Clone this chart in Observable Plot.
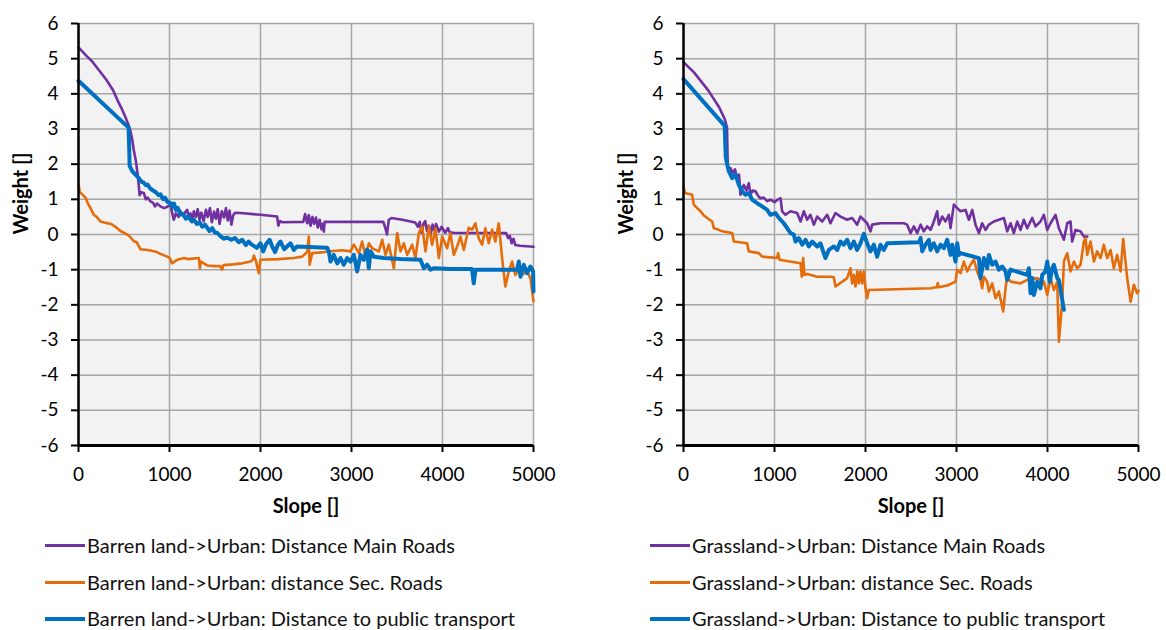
<!DOCTYPE html>
<html><head><meta charset="utf-8">
<script src="https://cdn.jsdelivr.net/npm/d3@7"></script>
<script src="https://cdn.jsdelivr.net/npm/@observablehq/plot@0.6"></script>
<style>
body{margin:0;background:#fff;}
#wrap{position:relative;width:1166px;height:630px;overflow:hidden;font-family:Lato,"Open Sans",sans-serif;}
.panel{position:absolute;top:0;width:583px;height:630px;}
.panel svg{position:absolute;left:0;top:0;}
.item{position:absolute;white-space:nowrap;font-size:20px;color:#111;line-height:20px;}
.sw{position:absolute;top:9px;height:3px;}
</style></head><body><div id="wrap"></div>
<script>
// ---------- data ----------
const xTicks = [0, 1000, 2000, 3000, 4000, 5000];
const yTicks = [-6, -5, -4, -3, -2, -1, 0, 1, 2, 3, 4, 5, 6];
const xLabel = "Slope []";
const yLabel = "Weight []";
const seriesColors = ["#7030a0", "#e46c0a", "#0070c0"];
const leftNames = ["Barren land->Urban: Distance Main Roads", "Barren land->Urban: distance Sec. Roads", "Barren land->Urban: Distance to public transport"];
const rightNames = ["Grassland->Urban: Distance Main Roads", "Grassland->Urban: distance Sec. Roads", "Grassland->Urban: Distance to public transport"];

const barrenMain = [[0,5.32],[80,5.1],[157,4.9],[240,4.62],[314,4.37],[380,4.1],[432,3.8],[480,3.55],[510,3.37],[545,3.15],[570,2.95],[590,2.7],[609,2.38],[630,2.1],[648,1.75],[662,1.4],[672,1.12],[690,1.2],[718,1.18],[740,1.0],[760,1.05],[791,0.94],[820,0.9],[840,0.8],[864,0.88],[900,0.8],[938,0.75],[970,0.78],[1011,0.85],[1030,0.6],[1047,0.42],[1070,0.6],[1100,0.5],[1121,0.66],[1150,0.55],[1194,0.7],[1215,0.45],[1231,0.6],[1250,0.35],[1267,0.66],[1290,0.5],[1310,0.72],[1330,0.42],[1350,0.62],[1375,0.38],[1400,0.7],[1420,0.5],[1445,0.75],[1465,0.35],[1490,0.65],[1510,0.45],[1530,0.72],[1550,0.3],[1575,0.66],[1600,0.48],[1620,0.75],[1640,0.4],[1660,0.68],[1680,0.28],[1700,0.55],[1720,0.62],[1780,0.61],[2000,0.56],[2183,0.51],[2195,0.25],[2201,0.28],[2215,0.38],[2238,0.35],[2470,0.36],[2490,0.58],[2513,0.32],[2530,0.55],[2550,0.25],[2570,0.5],[2590,0.3],[2610,0.48],[2630,0.2],[2650,0.42],[2670,0.15],[2685,0.3],[2696,0.08],[2705,0.36],[3350,0.36],[3370,0.2],[3390,0.0],[3410,0.42],[3440,0.47],[3560,0.42],[3700,0.34],[3730,0.22],[3750,0.36],[3770,0.05],[3790,0.3],[3810,0.38],[3830,0.1],[3850,0.25],[3870,0.0],[3890,0.28],[3910,0.12],[3930,0.3],[3960,0.08],[3990,0.22],[4030,0.05],[4060,0.18],[4080,0.06],[4120,0.05],[4700,0.04],[4720,-0.1],[4740,-0.04],[4760,-0.25],[4780,-0.12],[4800,-0.3],[4850,-0.32],[5000,-0.35]];

const barrenSec = [[0,1.43],[15,1.2],[50,1.12],[80,1.04],[100,0.9],[132,0.75],[168,0.56],[200,0.5],[242,0.37],[300,0.33],[360,0.3],[425,0.18],[460,0.1],[535,0.0],[560,-0.05],[608,-0.19],[640,-0.22],[681,-0.42],[780,-0.45],[860,-0.5],[900,-0.55],[975,-0.63],[1000,-0.66],[1029,-0.82],[1050,-0.78],[1084,-0.72],[1158,-0.67],[1200,-0.7],[1323,-0.67],[1334,-0.96],[1345,-0.77],[1414,-0.88],[1500,-0.9],[1560,-0.9],[1578,-1.0],[1595,-0.87],[1700,-0.85],[1800,-0.82],[1890,-0.77],[1915,-0.72],[1927,-0.6],[1950,-0.75],[1981,-1.1],[1999,-0.72],[2200,-0.7],[2366,-0.67],[2458,-0.63],[2513,-0.5],[2531,-0.06],[2540,-0.86],[2568,-0.53],[2700,-0.5],[2800,-0.47],[2900,-0.45],[2989,-0.48],[3026,-0.29],[3081,-0.53],[3117,-0.2],[3154,-0.63],[3191,-0.25],[3227,-0.39],[3300,-0.48],[3337,-0.15],[3374,-0.58],[3410,-0.29],[3465,-0.96],[3502,0.04],[3538,-0.48],[3575,-0.25],[3612,-0.58],[3667,-0.29],[3703,-0.67],[3740,0.04],[3777,0.23],[3813,-0.48],[3850,0.23],[3886,-0.29],[3923,0.18],[3960,-0.67],[3996,-0.06],[4051,-0.39],[4087,0.04],[4124,-0.58],[4161,-0.34],[4197,-0.06],[4234,-0.44],[4288,0.19],[4325,0.14],[4361,0.32],[4398,-0.11],[4435,-0.29],[4471,0.18],[4508,-0.25],[4545,0.14],[4581,-0.2],[4618,0.32],[4655,-0.67],[4691,-1.48],[4728,-1.05],[4765,-0.77],[4801,-1.15],[4838,-1.0],[4875,-1.15],[4930,-1.05],[4966,-1.24],[5000,-1.9]];

const barrenTransport = [[0,4.37],[550,3.04],[558,2.4],[562,1.95],[590,1.8],[620,1.72],[645,1.65],[670,1.58],[690,1.5],[715,1.48],[740,1.4],[760,1.42],[790,1.3],[820,1.25],[850,1.2],[880,1.12],[901,1.14],[930,1.0],[950,1.05],[980,0.92],[1011,0.9],[1030,0.78],[1050,0.88],[1070,0.7],[1090,0.76],[1121,0.57],[1150,0.58],[1180,0.45],[1210,0.52],[1240,0.38],[1268,0.42],[1300,0.3],[1330,0.35],[1360,0.22],[1390,0.28],[1414,0.19],[1440,0.1],[1470,0.18],[1500,0.05],[1524,0.05],[1560,-0.05],[1600,-0.12],[1634,-0.09],[1680,-0.15],[1720,-0.1],[1760,-0.22],[1800,-0.15],[1840,-0.3],[1870,-0.2],[1900,-0.28],[1930,-0.33],[1960,-0.38],[2000,-0.25],[2030,-0.48],[2060,-0.28],[2100,-0.15],[2130,-0.35],[2160,-0.5],[2190,-0.3],[2220,-0.2],[2260,-0.42],[2300,-0.32],[2330,-0.25],[2366,-0.44],[2400,-0.34],[2733,-0.38],[2751,-0.48],[2769,-0.77],[2806,-0.58],[2843,-0.82],[2879,-0.67],[2916,-0.86],[2952,-0.67],[2989,-0.77],[3026,-0.58],[3062,-1.05],[3099,-0.58],[3135,-0.72],[3172,-0.43],[3190,-0.96],[3209,-0.48],[3245,-0.63],[3355,-0.67],[3538,-0.7],[3758,-0.72],[3795,-0.96],[3831,-0.86],[3868,-1.0],[3904,-0.96],[4087,-0.98],[4325,-0.98],[4343,-1.39],[4362,-1.0],[4637,-1.0],[4820,-1.0],[4838,-0.77],[4857,-1.2],[4893,-0.86],[4930,-1.1],[4966,-0.91],[4996,-1.05],[5000,-1.62]];

const grassMain = [[0,4.9],[115,4.61],[274,4.09],[393,3.61],[453,3.28],[478,3.05],[482,2.5],[486,1.98],[498,1.8],[516,1.89],[540,1.75],[565,1.85],[590,1.6],[610,1.7],[626,1.13],[645,1.3],[663,1.41],[690,1.25],[718,1.46],[736,1.13],[760,1.25],[791,1.23],[820,1.1],[846,1.03],[880,1.05],[920,0.95],[956,0.99],[1000,0.92],[1040,1.0],[1066,1.03],[1084,0.66],[1121,0.56],[1176,0.66],[1249,0.61],[1286,0.37],[1322,0.66],[1359,0.42],[1395,0.56],[1432,0.28],[1469,0.51],[1524,0.37],[1579,0.56],[1615,0.32],[1670,0.61],[1725,0.51],[1798,0.42],[1853,0.47],[1908,0.28],[1945,0.51],[2018,0.32],[2055,0.09],[2073,0.28],[2165,0.32],[2421,0.32],[2458,0.28],[2495,0.04],[2532,0.23],[2568,0.04],[2605,0.28],[2641,0.09],[2678,0.23],[2715,0.13],[2751,0.37],[2788,0.66],[2806,0.28],[2843,0.51],[2879,0.37],[2916,0.56],[2934,0.18],[2971,0.85],[3008,0.75],[3044,0.66],[3099,0.7],[3136,0.42],[3173,0.7],[3209,0.28],[3246,0.04],[3282,0.32],[3319,0.13],[3356,0.28],[3411,0.37],[3521,0.47],[3557,0.09],[3594,0.32],[3630,0.04],[3667,0.37],[3704,0.13],[3740,0.42],[3777,0.18],[3832,0.47],[3869,0.23],[3923,0.37],[3960,0.56],[3997,0.13],[4033,0.32],[4088,0.56],[4125,0.18],[4180,-0.15],[4217,0.32],[4253,0.37],[4271,-0.2],[4308,0.13],[4363,0.09],[4400,-0.06],[4437,-0.06]];

const grassSec = [[0,1.37],[15,1.18],[95,1.13],[113,0.85],[150,0.75],[187,0.66],[220,0.55],[260,0.47],[315,0.37],[333,0.18],[380,0.14],[425,0.09],[535,0.04],[553,-0.2],[699,-0.25],[718,-0.48],[828,-0.53],[864,-0.63],[950,-0.65],[1029,-0.67],[1040,-0.53],[1055,-0.72],[1150,-0.76],[1286,-0.82],[1300,-1.2],[1315,-0.67],[1330,-1.15],[1360,-1.12],[1469,-1.2],[1620,-1.2],[1652,-1.22],[1670,-1.48],[1798,-1.24],[1835,-0.96],[1853,-1.39],[1872,-1.15],[1890,-1.48],[1910,-1.05],[1927,-1.39],[1945,-1.05],[1963,-1.39],[1982,-1.05],[2000,-1.53],[2018,-1.81],[2036,-1.58],[2714,-1.53],[2780,-1.5],[2795,-1.38],[2800,-1.5],[2900,-1.45],[2989,-1.34],[3008,-1.0],[3044,-1.1],[3081,-0.77],[3118,-1.05],[3154,-0.86],[3191,-0.72],[3227,-1.05],[3264,-1.29],[3282,-1.53],[3301,-1.2],[3337,-1.34],[3356,-1.62],[3392,-1.39],[3429,-1.81],[3466,-1.62],[3513,-2.19],[3539,-1.53],[3557,-1.2],[3594,-1.34],[3704,-1.39],[3777,-1.29],[3887,-1.24],[3960,-1.34],[3997,-1.72],[4033,-1.24],[4070,-1.58],[4107,-1.34],[4125,-3.05],[4162,-1.91],[4180,-0.77],[4217,-0.53],[4253,-1.05],[4290,-0.77],[4326,-0.96],[4363,-0.86],[4400,-0.2],[4418,-0.1],[4436,-0.58],[4473,-0.2],[4510,-0.77],[4546,-0.48],[4583,-0.67],[4619,-0.29],[4656,-0.67],[4693,-0.44],[4729,-0.96],[4766,-0.58],[4803,-1.05],[4832,-0.13],[4876,-1.24],[4913,-1.91],[4949,-1.43],[4986,-1.67],[5000,-1.6]];

const grassTransport = [[0,4.42],[453,3.09],[460,2.5],[465,2.19],[480,2.0],[498,1.8],[535,1.6],[571,1.7],[608,1.41],[645,1.23],[681,1.13],[718,1.18],[754,0.99],[809,0.89],[864,0.8],[919,0.7],[956,0.56],[1011,0.61],[1048,0.47],[1102,0.32],[1139,0.18],[1176,0.04],[1212,0],[1231,-0.2],[1267,-0.1],[1304,-0.29],[1341,-0.15],[1377,-0.34],[1414,-0.2],[1469,-0.34],[1505,-0.25],[1560,-0.67],[1597,-0.44],[1652,-0.34],[1689,-0.44],[1725,-0.2],[1762,-0.29],[1798,-0.15],[1835,-0.39],[1872,-0.2],[1908,-0.44],[1945,-0.25],[1982,0.02],[2018,-0.25],[2055,-0.48],[2092,-0.29],[2128,-0.63],[2165,-0.29],[2201,-0.44],[2238,-0.25],[2590,-0.22],[2605,-0.1],[2623,-0.48],[2660,-0.29],[2696,-0.15],[2715,-0.44],[2751,-0.25],[2788,-0.48],[2825,-0.29],[2861,-0.39],[2898,-0.15],[2934,-0.58],[2953,-0.29],[2989,-0.77],[3008,-0.25],[3026,-0.58],[3044,-0.53],[3246,-0.67],[3264,-1.24],[3301,-0.67],[3337,-0.96],[3356,-0.58],[3392,-0.86],[3429,-0.77],[3466,-1.0],[3502,-0.91],[3539,-1.05],[3557,-1.29],[3594,-1.0],[3777,-1.15],[3795,-0.96],[3814,-1.67],[3832,-1.24],[3850,-1.72],[3887,-1.34],[3923,-1.53],[3942,-1.15],[3978,-1.05],[3997,-0.77],[4026,-1.34],[4052,-0.96],[4070,-0.86],[4107,-1.24],[4125,-1.29],[4180,-2.14]];

// ---------- drawing ----------
const FONT = 'Lato, "Open Sans", sans-serif';
const widths = [2.6, 2.6, 4];

function panel(seriesList, names, leftPx, mL, mR) {
  const rows = [];
  seriesList.forEach((s, i) => s.forEach(([x, y]) => rows.push({x, y, s: i})));
  const marks = [
    Plot.frame({fill: "#f2f2f2", stroke: null}),
    Plot.gridX(xTicks, {stroke: "#a6a6a6", strokeOpacity: 1, strokeWidth: 1.5}),
    Plot.gridY(yTicks, {stroke: "#a6a6a6", strokeOpacity: 1, strokeWidth: 1.5}),
  ];
  seriesList.forEach((s, i) => {
    marks.push(Plot.line(rows.filter(r => r.s === i), {x: "x", y: "y", stroke: seriesColors[i], strokeWidth: widths[i], strokeLinejoin: "round", strokeLinecap: "round"}));
  });
  marks.push(
    Plot.ruleX([0], {stroke: "#000", strokeWidth: 2.5}),
    Plot.ruleY([-6], {stroke: "#000", strokeWidth: 3}),
    Plot.axisY(yTicks, {tickSize: 7, tickPadding: 13, tickFormat: d => String(d), stroke: "#000", strokeWidth: 2, fontSize: 19, label: null}),
    Plot.axisX(xTicks, {tickSize: 7, tickPadding: 15, tickFormat: d => String(d), stroke: "#000", strokeWidth: 2, fontSize: 19, label: null}),
    Plot.text([xLabel], {text: d => d, frameAnchor: "bottom", dy: 67, fontWeight: "bold", fontSize: 20, fill: "#000"}),
    Plot.text([yLabel], {text: d => d, frameAnchor: "left", dx: -57, rotate: -90, fontWeight: "bold", fontSize: 20, fill: "#000"})
  );
  const chart = Plot.plot({
    width: 583, height: 520,
    marginLeft: mL, marginRight: mR, marginTop: 23, marginBottom: 75,
    style: {fontFamily: FONT, fontSize: "19px", color: "#000", background: "transparent", overflow: "visible"},
    x: {domain: [0, 5000], label: null},
    y: {domain: [-6, 6], label: null},
    marks
  });
  const div = document.createElement("div");
  div.className = "panel";
  div.style.left = leftPx + "px";
  div.appendChild(chart);
  const legendTops = [535, 572, 608];
  names.forEach((n, i) => {
    const it = document.createElement("div");
    it.className = "item";
    it.style.top = legendTops[i] + "px";
    it.style.left = (mL - 33) + "px";
    const sw = document.createElement("span");
    sw.className = "sw";
    sw.style.left = "0px";
    sw.style.width = "40px";
    sw.style.background = seriesColors[i];
    sw.style.height = (i === 2 ? 4 : 3) + "px";
    it.appendChild(sw);
    const t = document.createElement("span");
    t.textContent = n;
    t.style.marginLeft = "42px";
    it.appendChild(t);
    div.appendChild(it);
  });
  document.getElementById("wrap").appendChild(div);
}

panel([barrenMain, barrenSec, barrenTransport], leftNames, 0, 78, 50);
panel([grassMain, grassSec, grassTransport], rightNames, 583, 100, 28);
</script></body></html>
